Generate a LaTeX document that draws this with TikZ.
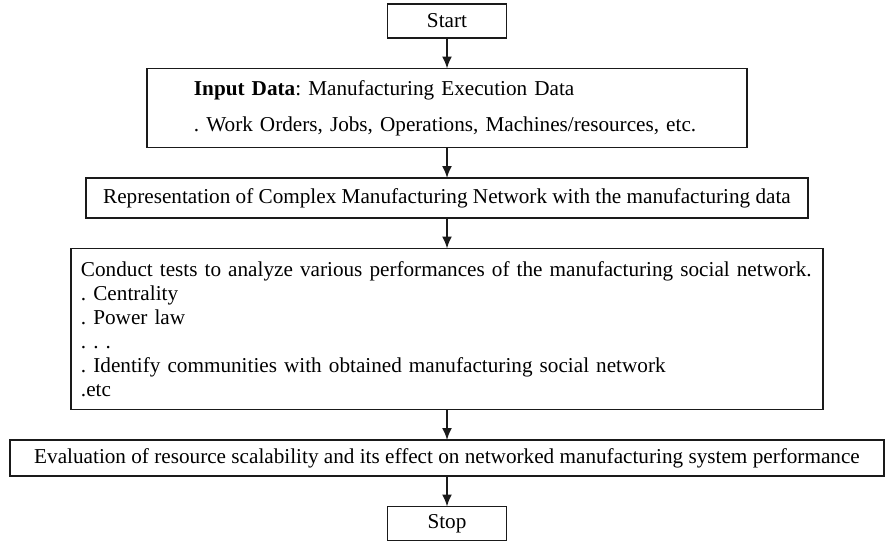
\documentclass[tikz,border=0pt]{standalone}
\usepackage{fontspec}
\setmainfont{Liberation Serif}
\usetikzlibrary{arrows.meta,positioning}
\definecolor{flowInk}{HTML}{1A1A1A}
\frenchspacing
\tikzset{
  term/.style={rectangle, draw=flowInk, line width=0.9pt, minimum width=59.5pt, minimum height=17pt, inner sep=0pt, font=\fontsize{10.6}{12}\selectfont},
  proc/.style={rectangle, draw=flowInk, line width=0.9pt, align=center, inner sep=0pt, font=\fontsize{10.6}{12}\selectfont},
  arrow/.style={-{Latex[length=6pt,width=5pt]}, line width=0.9pt, draw=flowInk}
}

\begin{document}
\begin{tikzpicture}[node distance=15.25pt,every node/.style={outer sep=0pt}]
\useasboundingbox (-223.5pt,10.5pt) rectangle (219.5pt,-260pt);

\node[term] (start) {Start};
\node[proc, below=of start, minimum width=300pt, minimum height=39.5pt, text width=253pt, align=left] (input) {\textbf{Input Data}: Manufacturing Execution Data\\[6pt]. Work Orders, Jobs, Operations, Machines/resources, etc.};
\node[proc, below=of input, minimum width=361pt, minimum height=20pt] (network) {Representation of Complex Manufacturing Network with the manufacturing data};
\node[proc, below=of network, minimum width=376pt, minimum height=80.5pt, text width=366pt, align=left] (tests) {Conduct tests to analyze various performances of the manufacturing social network.\\
. Centrality\\
. Power law\\
. . .\\
. Identify communities with obtained manufacturing social network\\
.etc};
\node[proc, below=of tests, minimum width=437pt, minimum height=18pt] (scale) {Evaluation of resource scalability and its effect on networked manufacturing system performance};
\node[term, below=of scale] (stop) {Stop};

\draw[arrow] (start.south) -- (input.north);
\draw[arrow] (input.south) -- (network.north);
\draw[arrow] (network.south) -- (tests.north);
\draw[arrow] (tests.south) -- (scale.north);
\draw[arrow] (scale.south) -- (stop.north);

\end{tikzpicture}
\end{document}
